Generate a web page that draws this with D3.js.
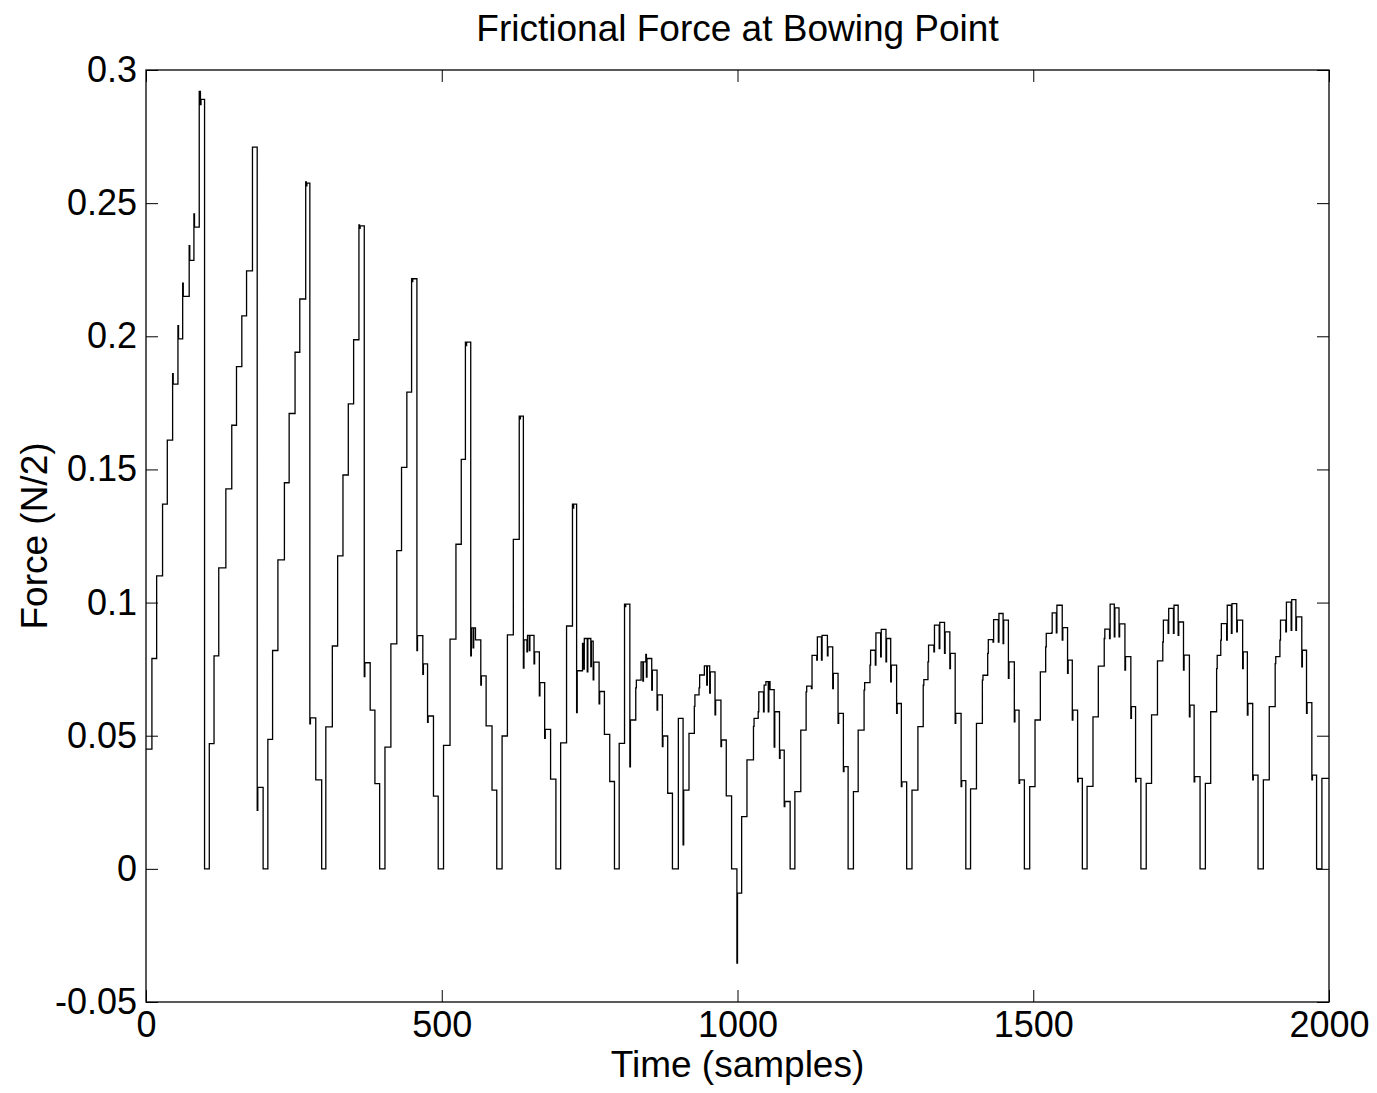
<!DOCTYPE html>
<html><head><meta charset="utf-8">
<script src="https://cdn.jsdelivr.net/npm/d3@7"></script>
<style>
body{margin:0;background:#fff}
svg text{font-family:"Liberation Sans",Arial,Helvetica,sans-serif}
</style>
</head><body>
<svg id="chart" width="1377" height="1093"></svg>
<script>
// Breakpoints of the staircase signal: value holds from sampleIndex[i] until sampleIndex[i+1]
const sampleIndex = [
  0,10,18,28,36,45,46,54,55,62,63,73,74,81,82,90,92,93,99,
  107,115,123,135,145,153,162,170,180,188,189,198,
  206,214,223,234,242,252,260,270,271,272,277,278,287,297,
  304,315,324,333,342,351,360,361,362,369,370,379,387,395,
  404,414,424,432,441,449,450,451,458,459,468,469,476,477,486,494,
  503,514,524,533,540,541,542,549,550,553,554,557,566,567,575,585,593,
  602,611,621,631,632,633,638,639,644,645,648,649,656,657,665,666,674,675,684,693,
  701,711,721,722,723,728,729,738,740,741,746,747,752,753,756,757,766,767,775,784,792,
  800,809,810,811,818,819,828,829,837,840,841,845,846,847,855,856,864,865,873,874,882,890,
  900,908,909,918,927,928,935,936,944,948,949,953,954,962,963,972,973,981,990,999,1000,
  1007,1016,1027,1028,1035,1036,1044,1045,1048,1052,1053,1055,1062,1063,1071,1072,1079,1080,1089,
  1097,1107,1116,1117,1125,1126,1134,1135,1142,1143,1152,1153,1161,1162,1170,1171,1179,1180,1187,
  1196,1204,1214,1215,1224,1225,1233,1234,1242,1243,1251,1252,1259,1260,1269,1270,1277,1278,1286,
  1295,1305,1314,1315,1322,1323,1332,1333,1341,1342,1350,1351,1359,1360,1368,1369,1378,1379,1386,
  1394,1404,1414,1415,1423,1424,1432,1433,1441,1442,1449,1450,1458,1459,1468,1469,1476,1477,1485,
  1494,1503,1512,1521,1522,1531,1532,1539,1540,1549,1550,1558,1559,1566,1567,1575,1576,1583,
  1591,1601,1610,1620,1621,1629,1630,1637,1638,1645,1646,1655,1656,1665,1666,1673,1674,1682,
  1691,1700,1710,1719,1720,1728,1729,1737,1738,1745,1746,1754,1755,1764,1765,1772,1773,1782,
  1791,1800,1810,1811,1817,1818,1827,1828,1835,1836,1844,1845,1854,1855,1862,1863,1871,1872,1880,
  1889,1899,1909,1910,1917,1918,1927,1928,1936,1937,1944,1945,1954,1955,1962,1963,1971,1972,1979,1988,2000
];
const force = [
  0.045,0.079,0.110,0.137,0.161,0.186,0.182,0.204,0.199,0.220,0.215,0.234,0.2285,0.246,0.241,0.292,0.287,0.289,0,
  0.047,0.080,0.113,0.1427,0.1666,0.1886,0.2077,0.2246,0.271,0.022,0.0306,0,
  0.0486,0.082,0.116,0.145,0.171,0.194,0.214,0.258,0.2565,0.2575,0.0545,0.0567,0.0334,0,
  0.0533,0.0837,0.1175,0.1479,0.1746,0.1987,0.2418,0.2405,0.2415,0.0722,0.0774,0.0596,0.032,0,
  0.0457,0.0845,0.1195,0.1508,0.179,0.2216,0.2205,0.2216,0.082,0.0876,0.073,0.077,0.055,0.0574,0.0273,0,
  0.0464,0.0863,0.1219,0.1538,0.1978,0.1965,0.1978,0.080,0.0905,0.083,0.0905,0.086,0.069,0.0725,0.0537,0.0296,0,
  0.0499,0.0879,0.1237,0.170,0.169,0.170,0.0754,0.086,0.0815,0.0877,0.082,0.0877,0.077,0.0815,0.065,0.0699,0.049,0.0524,0.0337,0,
  0.0473,0.0912,0.137,0.1355,0.137,0.0587,0.0744,0.0847,0.075,0.0865,0.074,0.0865,0.076,0.0855,0.071,0.0776,0.062,0.0666,0.0505,0.0328,0,
  0.0471,0.0994,0.0985,0.0994,0.0383,0.0559,0.068,0.0709,0.0777,0.0705,0.0777,0.0805,0.072,0.079,0.0671,0.0746,0.0596,0.0653,0.0459,0.0499,0.0284,0,
  0.0565,0.009,0.0296,0.0509,0.061,0.0653,0.068,0.0728,0.0762,0.069,0.0762,0.066,0.074,0.0578,0.0634,0.0459,0.0484,0.0274,0,-0.0354,-0.0091,
  0.0196,0.0409,0.0535,0.0565,0.059,0.0665,0.059,0.069,0.0703,0.059,0.0703,0.0673,0.0457,0.059,0.0415,0.0446,0.0234,0.0253,0,
  0.029,0.0521,0.0665,0.0686,0.0677,0.0802,0.0784,0.0871,0.0784,0.0877,0.080,0.0834,0.0677,0.0734,0.0546,0.0584,0.0365,0.0384,0,
  0.029,0.0521,0.0671,0.0699,0.0765,0.0821,0.0765,0.0886,0.0796,0.0899,0.0777,0.0865,0.0702,0.0765,0.0584,0.0621,0.0309,0.0327,0,
  0.0296,0.0534,0.069,0.0711,0.0777,0.084,0.0815,0.0915,0.0827,0.0926,0.0809,0.089,0.0752,0.0809,0.0546,0.0584,0.0309,0.0331,0,
  0.030,0.0546,0.0709,0.0727,0.0809,0.0861,0.0852,0.0936,0.0852,0.0959,0.0846,0.0934,0.0715,0.0777,0.0552,0.0596,0.0321,0.0334,0,
  0.0309,0.0559,0.074,0.0834,0.0884,0.0886,0.0961,0.0886,0.099,0.0859,0.0906,0.0734,0.0784,0.0559,0.0596,0.0327,0.034,0,
  0.031,0.0571,0.0761,0.0865,0.090,0.0865,0.0994,0.0871,0.098,0.0871,0.092,0.0746,0.0797,0.0565,0.0609,0.0327,0.034,0,
  0.0321,0.0578,0.0781,0.0852,0.0934,0.0884,0.0978,0.0884,0.099,0.0877,0.0927,0.0746,0.0803,0.0571,0.0615,0.0327,0.0346,0,
  0.0321,0.059,0.0752,0.0802,0.0859,0.0921,0.0859,0.099,0.0884,0.0996,0.089,0.0934,0.0752,0.0815,0.0577,0.0621,0.0334,0.0352,0,
  0.0334,0.0609,0.0771,0.0797,0.0859,0.0934,0.089,0.1002,0.0896,0.1011,0.0896,0.0946,0.0759,0.0821,0.0584,0.0624,0.0334,0.0352,0,0.034,0.034
];
const xTickValues = [0, 500, 1000, 1500, 2000];
const xTickLabels = ["0", "500", "1000", "1500", "2000"];
const yTickValues = [-0.05, 0, 0.05, 0.1, 0.15, 0.2, 0.25, 0.3];
const yTickLabels = ["-0.05", "0", "0.05", "0.1", "0.15", "0.2", "0.25", "0.3"];
const titleText = "Frictional Force at Bowing Point";
const xLabelText = "Time (samples)";
const yLabelText = "Force (N/2)";

const svg = d3.select("#chart");
svg.append("rect").attr("width", 1377).attr("height", 1093).attr("fill", "#fff");

const L = 146, R = 1329, T = 70, B = 1002;
const FONT = 36, LABEL_FONT = 37;
const x = d3.scaleLinear().domain([0, 2000]).range([L, R]);
const y = d3.scaleLinear().domain([-0.05, 0.3]).range([B, T]);

const pts = sampleIndex.map((s, i) => [s, force[i]]);

// axes (ticks inward)
const gx = svg.append("g").attr("transform", `translate(0,${B})`)
  .call(d3.axisBottom(x).tickValues(xTickValues).tickFormat((d, i) => xTickLabels[i])
    .tickSizeInner(-12).tickSizeOuter(0).tickPadding(9));
const gxt = svg.append("g").attr("transform", `translate(0,${T})`)
  .call(d3.axisTop(x).tickValues(xTickValues).tickFormat("").tickSizeInner(-12).tickSizeOuter(0));
const gy = svg.append("g").attr("transform", `translate(${L},0)`)
  .call(d3.axisLeft(y).tickValues(yTickValues).tickFormat((d, i) => yTickLabels[i])
    .tickSizeInner(-12).tickSizeOuter(0).tickPadding(9));
const gyr = svg.append("g").attr("transform", `translate(${R},0)`)
  .call(d3.axisRight(y).tickValues(yTickValues).tickFormat("").tickSizeInner(-12).tickSizeOuter(0));
[gx, gxt, gy, gyr].forEach(g => {
  g.select(".domain").remove();
  g.attr("font-size", FONT).attr("font-family", '"Liberation Sans",Arial,Helvetica,sans-serif');
  g.selectAll(".tick line").attr("stroke", "#000").attr("stroke-width", 1);
  g.selectAll(".tick text").attr("fill", "#000");
});

// data line
svg.append("path").datum(pts)
  .attr("fill", "none").attr("stroke", "#000").attr("stroke-width", 1.3)
  .attr("stroke-linejoin", "miter")
  .attr("d", d3.line().x(d => x(d[0])).y(d => y(d[1])).curve(d3.curveStepAfter));

// frame
svg.append("rect").attr("x", L).attr("y", T).attr("width", R - L).attr("height", B - T)
  .attr("fill", "none").attr("stroke", "#000").attr("stroke-width", 1.3);

// labels
svg.append("text").attr("x", (L + R) / 2).attr("y", 41).attr("text-anchor", "middle")
  .attr("font-size", LABEL_FONT).text(titleText);
svg.append("text").attr("x", (L + R) / 2).attr("y", 1077).attr("text-anchor", "middle")
  .attr("font-size", LABEL_FONT).text(xLabelText);
svg.append("text").attr("transform", `translate(47,${(T + B) / 2}) rotate(-90)`)
  .attr("text-anchor", "middle").attr("font-size", LABEL_FONT).text(yLabelText);
</script>
</body></html>
